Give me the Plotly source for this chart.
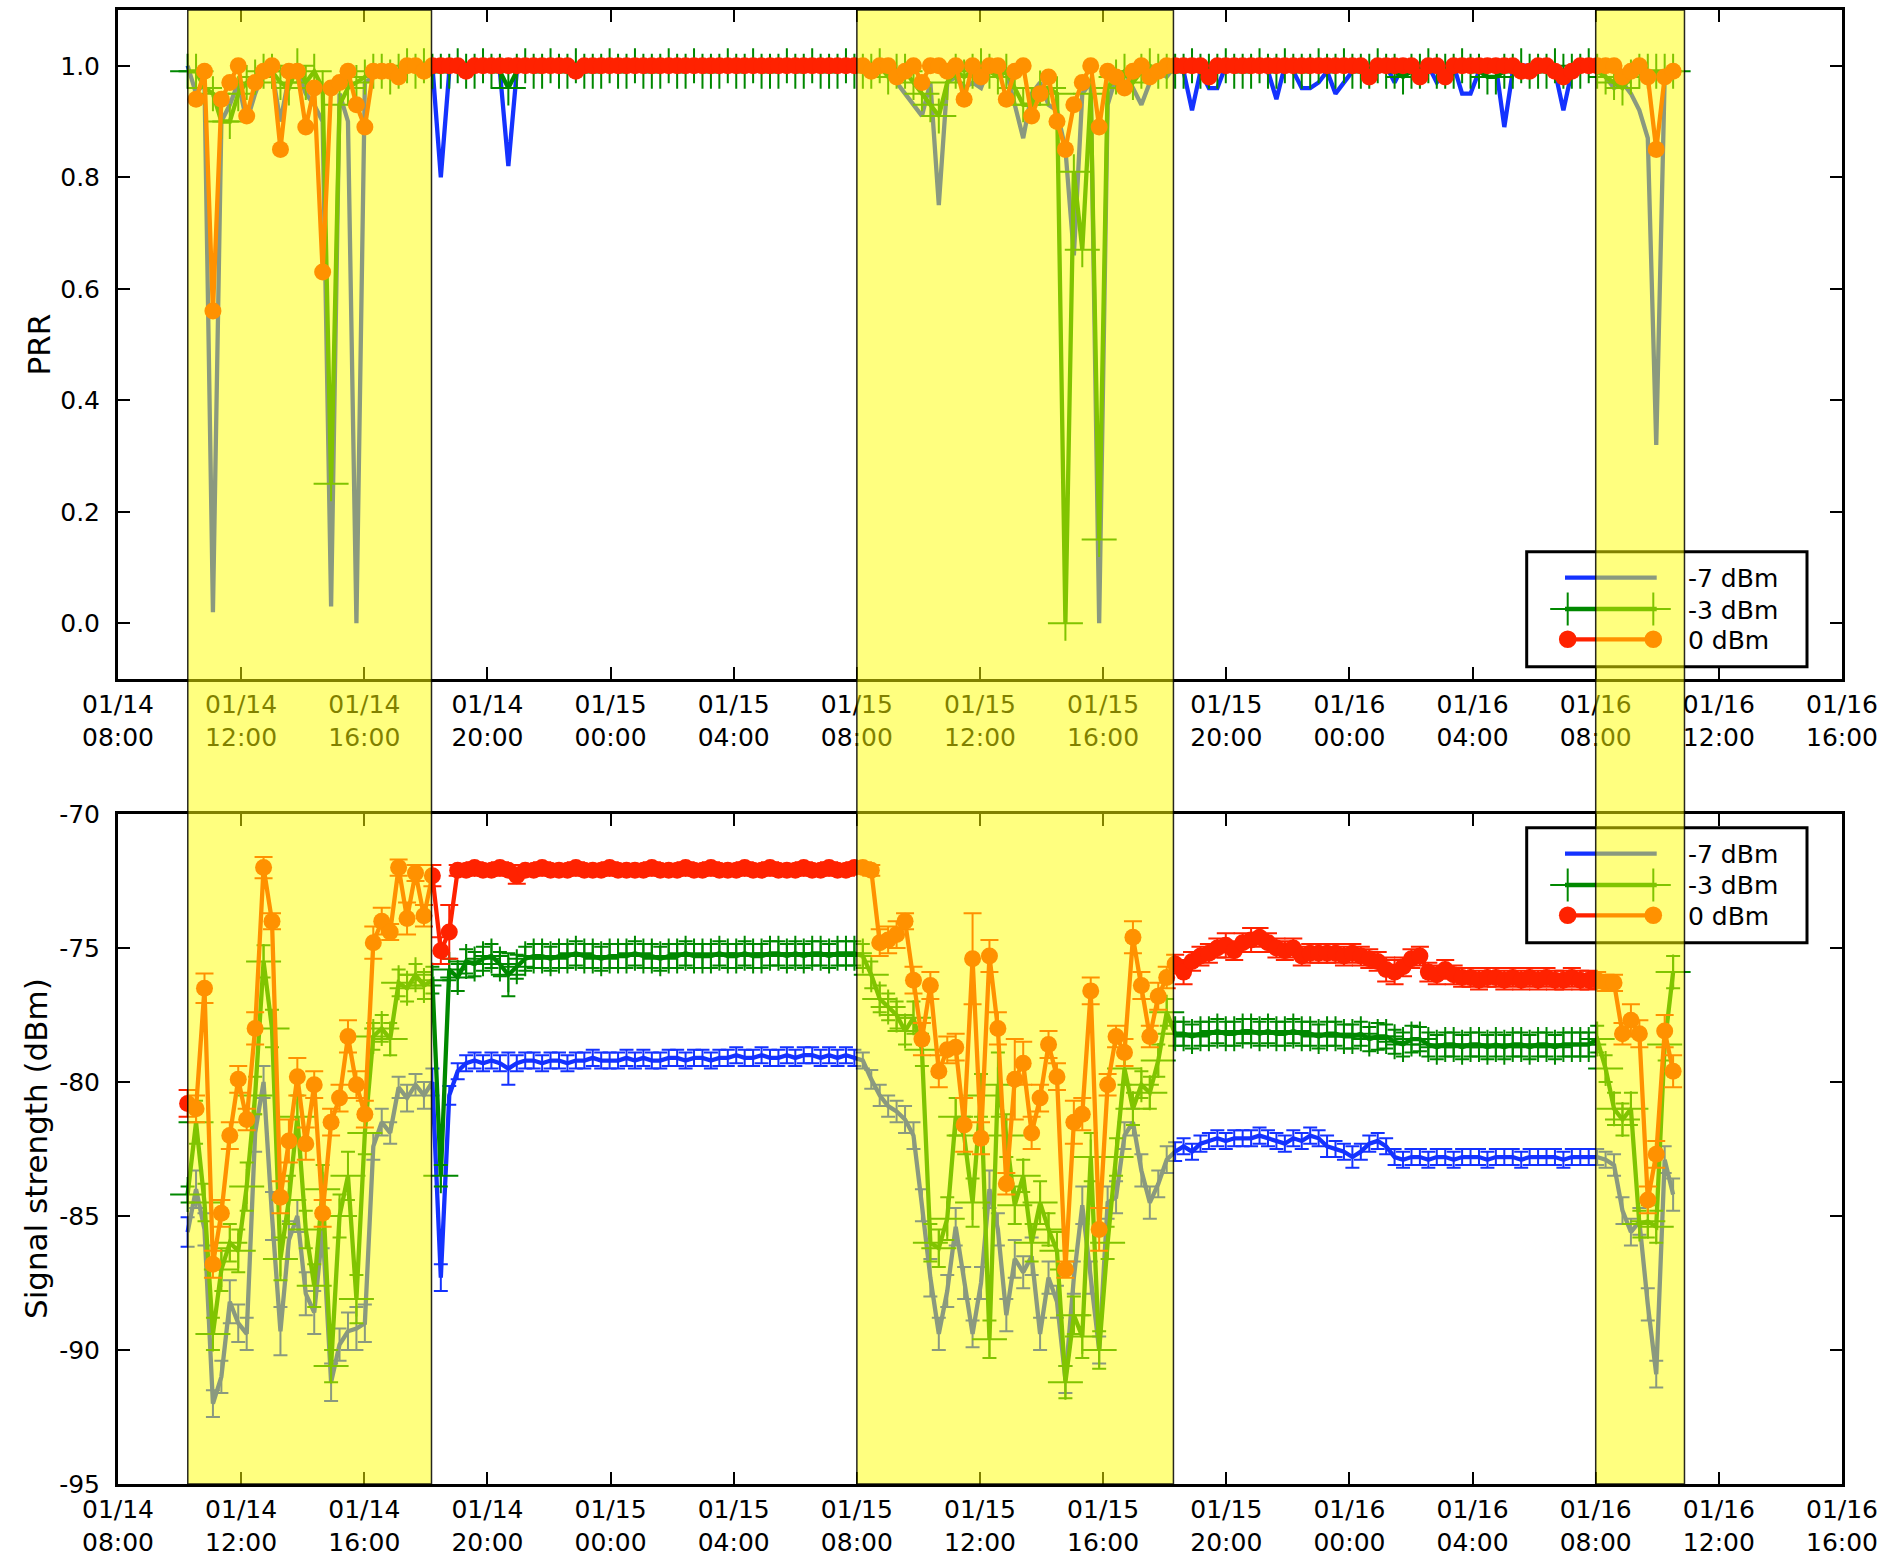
import plotly.graph_objects as go
import pandas as pd

# ---------------------------------------------------------------- data
t_start = "2014-01-14 10:15:40"
t_step_seconds = 987

day_spans = [("2014-01-14 10:16", "2014-01-14 18:11"),
             ("2014-01-15 08:00", "2014-01-15 18:17"),
             ("2014-01-16 08:00", "2014-01-16 10:53")]

tick_times = ["2014-01-14 08:00", "2014-01-14 12:00", "2014-01-14 16:00", "2014-01-14 20:00",
              "2014-01-15 00:00", "2014-01-15 04:00", "2014-01-15 08:00", "2014-01-15 12:00",
              "2014-01-15 16:00", "2014-01-15 20:00", "2014-01-16 00:00", "2014-01-16 04:00",
              "2014-01-16 08:00", "2014-01-16 12:00", "2014-01-16 16:00"]
tick_labels = ["01/14<br>08:00", "01/14<br>12:00", "01/14<br>16:00", "01/14<br>20:00",
               "01/15<br>00:00", "01/15<br>04:00", "01/15<br>08:00", "01/15<br>12:00",
               "01/15<br>16:00", "01/15<br>20:00", "01/16<br>00:00", "01/16<br>04:00",
               "01/16<br>08:00", "01/16<br>12:00", "01/16<br>16:00"]

series_names = ["-7 dBm", "-3 dBm", "0 dBm"]

prr_ticks = [0.0, 0.2, 0.4, 0.6, 0.8, 1.0]
prr_tick_labels = ["0.0", "0.2", "0.4", "0.6", "0.8", "1.0"]
sig_ticks = [-95, -90, -85, -80, -75, -70]
sig_tick_labels = ["-95", "-90", "-85", "-80", "-75", "-70"]

# PRR, -7 dBm
prr_m7 = ([1.0] +
    [0.95, 0.97, 0.02, 0.90, 0.93, 0.97, 0.90, 0.95, 0.99, 0.99,
     0.90, 0.98, 0.99, 0.95, 0.93, 0.90, 0.03, 0.95, 0.90, 0.00,
     0.97, 0.98, 0.99, 1.0, 0.99, 1.0, 0.99, 1.0, 1.0] +
    [0.80, 0.99, 1.0, 1.0, 0.99, 1.0, 1.0, 0.99, 0.82, 0.99,
     1.0, 1.0, 1.0, 0.99, 1.0, 1.0, 1.0, 1.0, 0.99, 1.0,
     1.0, 1.0, 1.0, 1.0, 1.0, 0.99, 1.0, 1.0, 1.0, 1.0,
     1.0, 1.0, 0.99, 1.0, 1.0, 1.0, 1.0, 1.0, 1.0, 1.0,
     1.0, 0.99, 1.0, 1.0, 1.0, 1.0, 1.0, 1.0, 1.0, 1.0] +
    [1.0, 0.99, 1.0, 0.99, 0.97, 0.95, 0.93, 0.91, 0.97, 0.75,
     0.97, 0.98, 0.96, 0.97, 0.96, 1.0, 0.98, 0.99, 0.93, 0.87,
     0.95, 0.97, 0.93, 0.92, 0.85, 0.66, 0.95, 0.97, 0.00, 0.93,
     0.98, 0.99, 0.96, 0.93, 0.97, 0.99, 0.98] +
    [1.0, 0.99, 0.92, 0.99, 0.96, 0.96, 1.0, 1.0, 0.99, 1.0,
     1.0, 0.99, 0.94, 1.0, 0.99, 0.96, 0.96, 0.97, 0.99, 0.95,
     0.97, 0.99, 1.0, 1.0, 0.99, 1.0, 0.97, 1.0, 1.0, 0.99,
     1.0, 0.97, 0.99, 1.0, 0.95, 0.95, 0.99, 1.0, 1.0, 0.89,
     0.99, 1.0, 1.0, 0.99, 1.0, 0.99, 0.92, 0.99, 1.0, 0.99] +
    [1.0, 0.98, 0.96, 0.97, 0.95, 0.92, 0.87, 0.32, 0.98, 0.99])

# PRR, -3 dBm
prr_m3 = ([0.99] +
    [0.99, 0.96, 0.95, 0.90, 0.90, 0.95, 0.97, 0.98, 0.99, 0.99,
     0.97, 0.96, 1.0, 0.97, 0.99, 0.96, 0.25, 0.93, 0.96, 0.97,
     0.98, 0.99, 0.99, 0.98, 0.99, 1.0, 0.99, 1.0, 0.99] +
    [0.99, 0.99, 1.0, 0.99, 0.99, 1.0, 0.99, 0.99, 0.96, 0.99,
     1.0, 0.99, 0.99, 1.0, 0.99, 0.99, 1.0, 0.99, 0.99, 0.99,
     1.0, 0.99, 0.99, 1.0, 0.99, 0.99, 0.99, 1.0, 0.99, 0.99,
     1.0, 0.99, 0.99, 0.99, 1.0, 0.99, 0.99, 1.0, 0.99, 0.99,
     0.99, 1.0, 0.99, 0.99, 1.0, 0.99, 0.99, 0.99, 1.0, 0.99] +
    [0.99, 0.99, 1.0, 0.98, 0.99, 0.99, 0.97, 0.95, 0.93, 0.91,
     0.97, 0.99, 0.98, 0.99, 1.0, 0.99, 0.98, 0.99, 0.96, 0.93,
     0.93, 0.96, 0.96, 0.95, 0.00, 0.81, 0.67, 0.95, 0.15, 0.96,
     0.98, 0.99, 0.97, 0.99, 1.0, 0.99, 0.99] +
    [0.99, 0.99, 1.0, 0.99, 0.99, 0.99, 1.0, 0.99, 0.99, 0.99,
     1.0, 0.99, 0.99, 1.0, 0.99, 0.99, 0.99, 1.0, 0.99, 0.99,
     1.0, 0.99, 0.99, 0.99, 1.0, 0.99, 0.99, 0.98, 0.99, 0.99,
     1.0, 0.99, 0.99, 0.99, 1.0, 0.99, 0.99, 0.98, 0.98, 0.99,
     0.99, 1.0, 0.99, 0.99, 0.99, 1.0, 0.99, 0.99, 0.99, 1.0] +
    [0.99, 0.98, 0.97, 0.96, 0.98, 0.99, 0.99, 0.99, 0.99, 0.99])

# PRR, 0 dBm (no packet-rate sample for the first slot)
prr_0 = ([None] +
    [0.94, 0.99, 0.56, 0.94, 0.97, 1.0, 0.91, 0.97, 0.99, 1.0,
     0.85, 0.99, 0.99, 0.89, 0.96, 0.63, 0.96, 0.97, 0.99, 0.93,
     0.89, 0.99, 0.99, 0.99, 0.98, 1.0, 1.0, 0.99, 1.0] +
    [1.0, 1.0, 1.0, 0.99, 1.0, 1.0, 1.0, 1.0, 1.0, 1.0,
     1.0, 1.0, 1.0, 1.0, 1.0, 1.0, 0.99, 1.0, 1.0, 1.0,
     1.0, 1.0, 1.0, 1.0, 1.0, 1.0, 1.0, 1.0, 1.0, 1.0,
     1.0, 1.0, 1.0, 1.0, 1.0, 1.0, 1.0, 1.0, 1.0, 1.0,
     1.0, 1.0, 1.0, 1.0, 1.0, 1.0, 1.0, 1.0, 1.0, 1.0] +
    [1.0, 0.99, 1.0, 1.0, 0.98, 0.99, 1.0, 0.97, 1.0, 1.0,
     0.99, 1.0, 0.94, 1.0, 0.98, 1.0, 1.0, 0.94, 0.99, 1.0,
     0.91, 0.95, 0.98, 0.90, 0.85, 0.93, 0.97, 1.0, 0.89, 0.99,
     0.98, 0.96, 0.99, 1.0, 0.98, 0.99, 1.0] +
    [1.0, 1.0, 1.0, 1.0, 0.98, 1.0, 1.0, 1.0, 1.0, 1.0,
     1.0, 1.0, 1.0, 1.0, 1.0, 1.0, 1.0, 1.0, 1.0, 1.0,
     1.0, 1.0, 1.0, 0.98, 1.0, 1.0, 1.0, 1.0, 1.0, 0.98,
     1.0, 1.0, 0.98, 1.0, 1.0, 1.0, 1.0, 1.0, 1.0, 1.0,
     1.0, 0.99, 0.99, 1.0, 1.0, 0.99, 0.98, 0.99, 1.0, 1.0] +
    [1.0, 1.0, 1.0, 0.98, 0.99, 1.0, 0.98, 0.85, 0.98, 0.99])

# Signal strength (dBm), -7 dBm
sig_m7 = ([-85.6] +
    [-84.0, -85.5, -92.0, -91.0, -88.2, -89.0, -89.4, -81.9, -80.0, -85.0,
     -89.3, -85.9, -85.0, -87.9, -88.6, -85.5, -91.2, -89.8, -89.3, -89.2,
     -89.0, -82.4, -81.5, -81.9, -80.2, -80.6, -80.1, -80.5, -80.0] +
    [-87.3, -80.5, -79.6, -79.3, -79.2, -79.3, -79.2, -79.3, -79.5, -79.3,
     -79.2, -79.2, -79.3, -79.2, -79.2, -79.3, -79.2, -79.2, -79.1, -79.2,
     -79.2, -79.2, -79.1, -79.2, -79.1, -79.2, -79.2, -79.1, -79.1, -79.2,
     -79.1, -79.1, -79.2, -79.1, -79.1, -79.0, -79.1, -79.1, -79.0, -79.1,
     -79.1, -79.0, -79.1, -79.0, -79.0, -79.1, -79.0, -79.1, -79.0, -79.1] +
    [-79.2, -79.9, -80.5, -80.9, -81.1, -81.4, -82.0, -84.6, -87.3, -89.4,
     -87.8, -85.4, -87.5, -89.4, -87.5, -84.0, -85.5, -88.7, -86.6, -87.1,
     -86.5, -89.4, -87.3, -88.2, -91.1, -87.3, -84.6, -87.3, -90.0, -84.5,
     -84.3, -82.0, -81.5, -83.3, -84.5, -83.8, -82.9] +
    [-82.6, -82.4, -82.6, -82.3, -82.2, -82.1, -82.2, -82.1, -82.1, -82.1,
     -82.0, -82.1, -82.2, -82.3, -82.1, -82.2, -82.0, -82.1, -82.4, -82.5,
     -82.6, -82.8, -82.6, -82.3, -82.2, -82.4, -82.8, -82.9, -82.8, -82.8,
     -82.9, -82.8, -82.8, -82.9, -82.8, -82.8, -82.8, -82.9, -82.8, -82.8,
     -82.8, -82.9, -82.8, -82.8, -82.8, -82.8, -82.9, -82.8, -82.8, -82.8] +
    [-82.8, -82.9, -83.1, -84.8, -85.6, -85.2, -88.3, -90.9, -82.9, -84.2])

# Signal strength (dBm), -3 dBm
sig_m3 = ([-84.2] +
    [-81.5, -84.5, -89.4, -87.0, -86.0, -86.3, -83.9, -80.5, -75.5, -78.0,
     -86.6, -84.4, -81.3, -85.5, -87.6, -84.0, -90.6, -85.0, -83.5, -88.1,
     -81.9, -78.3, -78.0, -78.4, -76.3, -76.5, -76.0, -76.4, -76.2] +
    [-83.5, -75.8, -76.1, -75.5, -75.6, -75.4, -75.3, -75.6, -76.0, -75.7,
     -75.4, -75.3, -75.3, -75.4, -75.3, -75.3, -75.2, -75.3, -75.3, -75.4,
     -75.3, -75.3, -75.3, -75.2, -75.3, -75.3, -75.4, -75.3, -75.3, -75.2,
     -75.3, -75.3, -75.3, -75.2, -75.3, -75.3, -75.2, -75.3, -75.3, -75.2,
     -75.2, -75.3, -75.2, -75.3, -75.2, -75.2, -75.3, -75.2, -75.2, -75.2] +
    [-75.3, -76.0, -76.9, -77.2, -77.5, -78.1, -77.6, -78.8, -86.0, -86.2,
     -85.1, -81.3, -82.0, -84.5, -80.5, -89.6, -80.1, -82.0, -84.6, -83.5,
     -86.0, -84.5, -85.5, -86.3, -91.2, -88.7, -89.5, -82.8, -90.0, -86.0,
     -82.8, -79.5, -81.0, -80.1, -80.4, -79.2, -77.4] +
    [-78.2, -78.2, -78.3, -78.2, -78.2, -78.1, -78.2, -78.2, -78.1, -78.1,
     -78.2, -78.1, -78.2, -78.2, -78.1, -78.2, -78.2, -78.3, -78.2, -78.2,
     -78.3, -78.3, -78.2, -78.4, -78.3, -78.3, -78.5, -78.6, -78.4, -78.4,
     -78.6, -78.7, -78.6, -78.6, -78.7, -78.6, -78.6, -78.7, -78.6, -78.7,
     -78.6, -78.6, -78.7, -78.6, -78.6, -78.7, -78.6, -78.6, -78.6, -78.6] +
    [-78.4, -79.5, -81.0, -81.4, -81.0, -85.3, -85.2, -85.4, -78.6, -75.9])

# Signal strength (dBm), 0 dBm
sig_0 = ([-80.8] +
    [-81.0, -76.5, -86.8, -84.9, -82.0, -79.9, -81.4, -78.0, -72.0, -74.0,
     -84.3, -82.2, -79.8, -82.3, -80.1, -84.9, -81.5, -80.6, -78.3, -80.1,
     -81.2, -74.8, -74.0, -74.4, -72.0, -73.9, -72.2, -73.8, -72.3] +
    [-75.1, -74.4, -72.1, -72.1, -72.0, -72.1, -72.1, -72.0, -72.1, -72.3,
     -72.1, -72.1, -72.0, -72.1, -72.1, -72.1, -72.0, -72.1, -72.1, -72.1,
     -72.0, -72.1, -72.1, -72.1, -72.1, -72.0, -72.1, -72.1, -72.1, -72.0,
     -72.1, -72.1, -72.0, -72.1, -72.1, -72.1, -72.0, -72.1, -72.1, -72.0,
     -72.1, -72.1, -72.1, -72.0, -72.1, -72.1, -72.0, -72.1, -72.1, -72.0] +
    [-72.0, -72.1, -74.8, -74.7, -74.5, -74.0, -76.2, -78.4, -76.4, -79.6,
     -78.8, -78.7, -81.6, -75.4, -82.1, -75.3, -78.0, -83.8, -79.9, -79.3,
     -81.9, -80.6, -78.6, -79.8, -87.0, -81.5, -81.2, -76.6, -85.5, -80.1,
     -78.3, -78.9, -74.6, -76.4, -78.3, -76.8, -76.1] +
    [-75.6, -75.9, -75.5, -75.3, -75.2, -75.0, -74.9, -75.1, -74.8, -74.7,
     -74.6, -74.8, -75.0, -75.1, -75.0, -75.3, -75.2, -75.2, -75.2, -75.2,
     -75.3, -75.2, -75.3, -75.4, -75.5, -75.8, -75.9, -75.7, -75.4, -75.3,
     -75.9, -76.0, -75.8, -76.0, -76.1, -76.1, -76.2, -76.1, -76.1, -76.2,
     -76.1, -76.2, -76.1, -76.2, -76.1, -76.2, -76.2, -76.1, -76.2, -76.2] +
    [-76.2, -76.3, -76.3, -78.2, -77.7, -78.2, -84.4, -82.7, -78.1, -79.6])

# error-bar half lengths (dBm)
err_m7 = ([0.55] +
    [0.7, 0.6, 0.5, 0.6, 0.8, 0.7, 0.6, 0.7, 0.6, 0.9,
     0.9, 0.7, 0.6, 0.8, 0.8, 0.7, 0.7, 0.6, 0.7, 0.8,
     0.7, 0.5, 0.5, 0.4, 0.4, 0.5, 0.4, 0.5, 0.5] +
    [0.5, 0.35, 0.3, 0.3, 0.3, 0.3, 0.3, 0.3, 0.6, 0.3,
     0.3, 0.3, 0.3, 0.3, 0.3, 0.3, 0.3, 0.3, 0.3, 0.3,
     0.3, 0.3, 0.3, 0.3, 0.3, 0.3, 0.3, 0.3, 0.3, 0.3,
     0.3, 0.3, 0.3, 0.3, 0.3, 0.3, 0.3, 0.3, 0.3, 0.3,
     0.3, 0.3, 0.3, 0.3, 0.3, 0.3, 0.3, 0.3, 0.3, 0.3] +
    [0.3, 0.35, 0.4, 0.4, 0.4, 0.5, 0.5, 0.6, 0.7, 0.6,
     0.6, 0.7, 0.6, 0.5, 0.6, 0.7, 0.6, 0.6, 0.7, 0.6,
     0.7, 0.6, 0.6, 0.6, 0.5, 0.6, 0.7, 0.6, 0.5, 0.6,
     0.6, 0.5, 0.5, 0.6, 0.6, 0.5, 0.5] +
    [0.35, 0.3, 0.3, 0.3, 0.3, 0.3, 0.3, 0.3, 0.3, 0.3,
     0.3, 0.3, 0.3, 0.3, 0.3, 0.3, 0.3, 0.3, 0.4, 0.3,
     0.3, 0.4, 0.3, 0.3, 0.3, 0.3, 0.3, 0.3, 0.3, 0.3,
     0.3, 0.3, 0.3, 0.3, 0.3, 0.3, 0.3, 0.3, 0.3, 0.3,
     0.3, 0.3, 0.3, 0.3, 0.3, 0.3, 0.3, 0.3, 0.3, 0.3] +
    [0.3, 0.3, 0.4, 0.5, 0.5, 0.5, 0.6, 0.5, 0.5, 0.6])

err_m3 = ([0.3] +
    [0.8, 0.7, 0.6, 0.8, 0.7, 0.8, 0.9, 0.7, 0.6, 0.7,
     0.8, 0.9, 0.8, 0.7, 0.8, 0.9, 0.6, 0.8, 0.9, 0.9,
     0.8, 0.5, 0.5, 0.6, 0.5, 0.5, 0.4, 0.5, 0.5] +
    [0.4, 0.4, 0.5, 0.45, 0.45, 0.45, 0.45, 0.45, 0.8, 0.45,
     0.45, 0.45, 0.45, 0.45, 0.45, 0.45, 0.45, 0.45, 0.45, 0.45,
     0.45, 0.45, 0.45, 0.45, 0.45, 0.45, 0.45, 0.45, 0.45, 0.45,
     0.45, 0.45, 0.45, 0.45, 0.45, 0.45, 0.45, 0.45, 0.45, 0.45,
     0.45, 0.45, 0.45, 0.45, 0.45, 0.45, 0.45, 0.45, 0.45, 0.45] +
    [0.45, 0.5, 0.5, 0.5, 0.5, 0.5, 0.6, 0.6, 0.7, 0.7,
     0.8, 0.7, 0.7, 0.9, 0.8, 0.7, 1.2, 0.8, 0.7, 0.6,
     0.7, 0.8, 0.6, 0.7, 0.6, 0.7, 0.8, 0.9, 0.7, 0.6,
     0.7, 0.6, 0.6, 0.5, 0.6, 0.6, 0.5] +
    [0.45, 0.45, 0.45, 0.45, 0.45, 0.45, 0.45, 0.45, 0.45, 0.45,
     0.45, 0.45, 0.45, 0.45, 0.45, 0.45, 0.45, 0.45, 0.45, 0.45,
     0.45, 0.45, 0.45, 0.45, 0.5, 0.45, 0.45, 0.45, 0.5, 0.45,
     0.45, 0.45, 0.45, 0.45, 0.45, 0.45, 0.45, 0.45, 0.45, 0.45,
     0.45, 0.45, 0.45, 0.45, 0.45, 0.45, 0.45, 0.45, 0.45, 0.45] +
    [0.5, 0.5, 0.6, 0.6, 0.6, 0.5, 0.6, 0.6, 0.6, 0.6])

err_0 = ([0.5] +
    [0.5, 0.55, 0.5, 0.5, 0.5, 0.5, 0.4, 0.6, 0.4, 0.3,
     0.6, 0.8, 0.7, 0.6, 0.5, 0.5, 0.5, 0.5, 0.6, 0.5,
     0.5, 0.6, 0.5, 0.3, 0.3, 0.6, 0.3, 0.4, 0.4] +
    [0.5, 1.0, 0.2, 0.2, 0.2, 0.2, 0.2, 0.2, 0.2, 0.3,
     0.2, 0.2, 0.2, 0.2, 0.2, 0.2, 0.2, 0.2, 0.2, 0.2,
     0.2, 0.2, 0.2, 0.2, 0.2, 0.2, 0.2, 0.2, 0.2, 0.2,
     0.2, 0.2, 0.2, 0.2, 0.2, 0.2, 0.2, 0.2, 0.2, 0.2,
     0.2, 0.2, 0.2, 0.2, 0.2, 0.2, 0.2, 0.2, 0.2, 0.2] +
    [0.2, 0.2, 0.5, 0.5, 0.5, 0.3, 0.5, 0.6, 0.5, 0.6,
     0.5, 0.5, 1.0, 1.7, 0.6, 0.6, 0.6, 0.4, 1.5, 0.8,
     0.6, 0.5, 0.5, 0.5, 0.3, 0.8, 0.6, 0.5, 0.8, 0.4,
     0.4, 0.5, 0.6, 0.5, 0.4, 0.5, 0.4] +
    [0.35, 0.45, 0.35, 0.35, 0.35, 0.35, 0.45, 0.35, 0.35, 0.45,
     0.35, 0.35, 0.35, 0.35, 0.35, 0.35, 0.35, 0.35, 0.35, 0.35,
     0.35, 0.35, 0.35, 0.35, 0.35, 0.45, 0.45, 0.35, 0.35, 0.35,
     0.35, 0.35, 0.35, 0.35, 0.35, 0.35, 0.35, 0.35, 0.35, 0.35,
     0.35, 0.35, 0.35, 0.35, 0.35, 0.35, 0.35, 0.35, 0.35, 0.35] +
    [0.3, 0.3, 0.3, 0.4, 0.6, 0.5, 0.5, 0.5, 0.6, 0.6])

all_lists = dict(prr_m7=prr_m7, prr_m3=prr_m3, prr_0=prr_0, sig_m7=sig_m7,
                 sig_m3=sig_m3, sig_0=sig_0, err_m7=err_m7, err_m3=err_m3, err_0=err_0)
lens = {k: len(v) for k, v in all_lists.items()}
assert len(set(lens.values())) == 1, lens

n_points = len(sig_0)
times = [pd.Timestamp(t_start) + pd.Timedelta(seconds=t_step_seconds * i) for i in range(n_points)]

# ---------------------------------------------------------------- style
FONT = "DejaVu Sans"
BLUE = "#1432FF"
GREEN = "#008800"
RED = "#FF2200"
W, H = 1892, 1558
ML, MR, MT, MB = 118, 50, 10, 74
PW, PH = W - ML - MR, H - MT - MB


def fx(px):
    return (px - ML) / PW


def fy(py):
    return (H - MB - py) / PH


TOP = (10, 679)
BOT = (814, 1484)

fig = go.Figure()

# PRR panel
fig.add_trace(go.Scatter(x=times, y=prr_m7, mode="lines", name=series_names[0],
                         line=dict(color=BLUE, width=4.3), xaxis="x", yaxis="y"))
fig.add_trace(go.Scatter(x=times, y=prr_m3, mode="lines+markers", name=series_names[1],
                         line=dict(color=GREEN, width=4.3),
                         marker=dict(symbol="cross-thin", size=25, color=GREEN,
                                     line=dict(color=GREEN, width=2)),
                         xaxis="x", yaxis="y"))
fig.add_trace(go.Scatter(x=times, y=prr_0, mode="lines+markers", name=series_names[2],
                         line=dict(color=RED, width=4.3),
                         marker=dict(symbol="circle", size=17, color=RED, line=dict(width=0)),
                         xaxis="x", yaxis="y"))

# Signal strength panel
fig.add_trace(go.Scatter(x=times, y=sig_m7, mode="lines", name=series_names[0],
                         line=dict(color=BLUE, width=4.3),
                         error_y=dict(type="data", array=err_m7, color=BLUE, thickness=2, width=7),
                         xaxis="x2", yaxis="y2"))
fig.add_trace(go.Scatter(x=times, y=sig_m3, mode="lines+markers", name=series_names[1],
                         line=dict(color=GREEN, width=4.3),
                         marker=dict(symbol="cross-thin", size=25, color=GREEN,
                                     line=dict(color=GREEN, width=2)),
                         error_y=dict(type="data", array=err_m3, color=GREEN, thickness=2, width=7),
                         xaxis="x2", yaxis="y2"))
fig.add_trace(go.Scatter(x=times, y=sig_0, mode="lines+markers", name=series_names[2],
                         line=dict(color=RED, width=4.3),
                         marker=dict(symbol="circle", size=17, color=RED, line=dict(width=0)),
                         error_y=dict(type="data", array=err_0, color=RED, thickness=2, width=9),
                         xaxis="x2", yaxis="y2"))

tickfont = dict(family=FONT, size=25, color="black")
x_range = [tick_times[0], tick_times[-1]]
xcommon = dict(type="date", range=x_range, tickmode="array", tickvals=tick_times, ticktext=tick_labels,
               ticks="inside", ticklen=12, tickwidth=1.5, tickcolor="black",
               showline=True, linecolor="black", linewidth=3, mirror="ticks",
               showgrid=False, zeroline=False, tickfont=tickfont, automargin=False,
               ticklabelstandoff=1)
ycommon = dict(ticks="inside", ticklen=12, tickwidth=1.5, tickcolor="black",
               showline=True, linecolor="black", linewidth=3, mirror="ticks",
               showgrid=False, zeroline=False, tickfont=tickfont, automargin=False,
               tickmode="array", ticklabelstandoff=10)

fig.update_layout(
    width=W, height=H,
    margin=dict(l=ML, r=MR, t=MT, b=MB, pad=0),
    paper_bgcolor="white", plot_bgcolor="rgba(0,0,0,0)",
    showlegend=False,
    font=dict(family=FONT, color="black"),
    xaxis=dict(domain=[0, 1], anchor="y", **xcommon),
    yaxis=dict(domain=[fy(TOP[1]), fy(TOP[0])], anchor="x", range=[-0.1, 1.1],
               tickvals=prr_ticks, ticktext=prr_tick_labels, **ycommon),
    xaxis2=dict(domain=[0, 1], anchor="y2", matches="x", **xcommon),
    yaxis2=dict(domain=[fy(BOT[1]), fy(BOT[0])], anchor="x2", range=[-95, -70],
                tickvals=sig_ticks, ticktext=sig_tick_labels, **ycommon),
)

shapes = []
annotations = []

# custom legends (one per panel), drawn before the day bands so the bands tint them
legend_tops = [551.7, 827.7]
row_offsets = [26.0, 57.3, 87.6]
for top in legend_tops:
    shapes.append(dict(type="rect", xref="paper", yref="paper",
                       x0=fx(1526.7), x1=fx(1807), y0=fy(top + 115), y1=fy(top),
                       line=dict(color="black", width=3), fillcolor="rgba(0,0,0,0)", layer="above"))
    for i, (name, col) in enumerate(zip(series_names, [BLUE, GREEN, RED])):
        ry = top + row_offsets[i]
        shapes.append(dict(type="line", xref="paper", yref="paper",
                           x0=fx(1565), x1=fx(1656.7), y0=fy(ry), y1=fy(ry),
                           line=dict(color=col, width=4.3), layer="above"))
        for cx in (1567.7, 1653.3):
            if i == 1:
                shapes.append(dict(type="line", xref="paper", yref="paper",
                                   xsizemode="pixel", ysizemode="pixel",
                                   xanchor=fx(cx), yanchor=fy(ry),
                                   x0=0, x1=0, y0=-16.5, y1=16.5,
                                   line=dict(color=col, width=2), layer="above"))
                shapes.append(dict(type="line", xref="paper", yref="paper",
                                   xsizemode="pixel", ysizemode="pixel",
                                   xanchor=fx(cx), yanchor=fy(ry),
                                   x0=-17.5, x1=17.5, y0=0, y1=0,
                                   line=dict(color=col, width=2), layer="above"))
            elif i == 2:
                shapes.append(dict(type="circle", xref="paper", yref="paper",
                                   xsizemode="pixel", ysizemode="pixel",
                                   xanchor=fx(cx), yanchor=fy(ry),
                                   x0=-8.8, x1=8.8, y0=-8.8, y1=8.8,
                                   fillcolor=col, line=dict(width=0), layer="above"))
        annotations.append(dict(text=name, xref="paper", yref="paper", x=fx(1686), y=fy(ry + 1),
                                xanchor="left", yanchor="middle", showarrow=False,
                                font=dict(family=FONT, size=25, color="black")))

# day-time bands: half-transparent yellow over everything
for s, e in day_spans:
    shapes.append(dict(type="rect", xref="x", yref="paper", x0=s, x1=e, y0=0, y1=1,
                       fillcolor="rgba(255,255,0,0.5)",
                       line=dict(color="rgba(0,0,0,0.85)", width=1.5), layer="above"))

# axis titles
annotations.append(dict(text="PRR", xref="paper", yref="paper", x=fx(38), y=(fy(TOP[0]) + fy(TOP[1])) / 2,
                        textangle=-90, xanchor="center", yanchor="middle", showarrow=False,
                        font=dict(family=FONT, size=31, color="black")))
annotations.append(dict(text="Signal strength (dBm)", xref="paper", yref="paper", x=fx(36),
                        y=(fy(BOT[0]) + fy(BOT[1])) / 2,
                        textangle=-90, xanchor="center", yanchor="middle", showarrow=False,
                        font=dict(family=FONT, size=31, color="black")))

fig.update_layout(shapes=shapes, annotations=annotations)

fig.write_html("out.html")
with open("out.html", "r", encoding="utf-8") as fh:
    html = fh.read()
html = html.replace("<body>", '<body style="margin:0;padding:0;">', 1)
with open("out.html", "w", encoding="utf-8") as fh:
    fh.write(html)
